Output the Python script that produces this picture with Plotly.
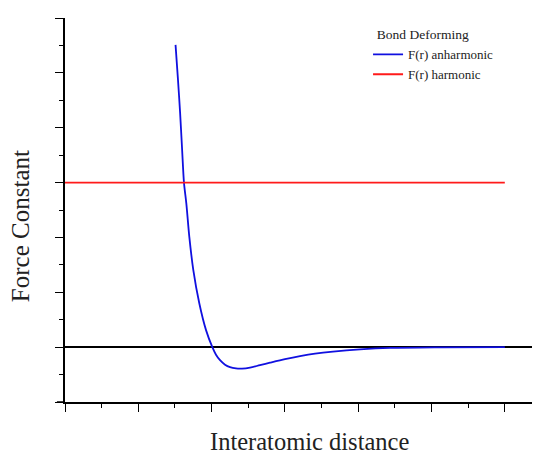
import plotly.graph_objects as go

# Data (x: interatomic distance, y: force constant, arbitrary units)
anh_x = [1.508, 1.540, 1.570, 1.597, 1.623, 1.655, 1.696, 1.750, 1.832, 1.924, 2.010, 2.060, 2.115, 2.183, 2.251, 2.333,
         2.415, 2.524, 2.660, 2.797, 3.001, 3.206, 3.411, 3.656, 4.025, 4.434, 5.116, 6.0]
anh_y = [5.51, 4.90, 4.28, 3.62, 3.00, 2.62, 2.01, 1.41, 0.80, 0.31, 0.0, -0.137, -0.237, -0.319, -0.365, -0.389,
         -0.392, -0.374, -0.328, -0.283, -0.219, -0.164, -0.119, -0.082, -0.042, -0.015, -0.004, 0.0]
harm_x = [0.0, 6.0]
harm_y = [3.0, 3.0]

serif = "Liberation Serif, Times New Roman, serif"

fig = go.Figure()
fig.add_trace(go.Scatter(x=anh_x, y=anh_y, mode="lines", name="F(r) anharmonic",
                         line=dict(color="#1010e0", width=1.8, shape="spline", smoothing=0.8)))
fig.add_trace(go.Scatter(x=harm_x, y=harm_y, mode="lines", name="F(r) harmonic",
                         line=dict(color="#ff1a1a", width=1.8)))

fig.update_layout(
    width=532, height=449,
    margin=dict(l=57, r=0, t=10, b=55),
    paper_bgcolor="white", plot_bgcolor="white",
    font=dict(family=serif, color="#222"),
    showlegend=True,
    legend=dict(x=0.638, y=0.99, xanchor="left", yanchor="top",
                bgcolor="rgba(0,0,0,0)", font=dict(family=serif, size=13, color="#222"),
                title=dict(text="  Bond Deforming", font=dict(family=serif, size=13.5, color="#222")),
                itemwidth=30, tracegroupgap=0),
    xaxis=dict(range=[0, 6.48], showgrid=False, zeroline=False, showticklabels=False,
               showline=True, linecolor="black", linewidth=1.5,
               ticks="outside", tickcolor="black", ticklen=8, tickwidth=1.2,
               tick0=0, dtick=1,
               minor=dict(ticks="outside", ticklen=4, tickcolor="black", tickwidth=1.2, dtick=0.5, showgrid=False)),
    yaxis=dict(range=[-1, 6.0], showgrid=False, zeroline=True, zerolinecolor="black", zerolinewidth=1.5,
               showticklabels=False,
               showline=True, linecolor="black", linewidth=1.5,
               ticks="outside", tickcolor="black", ticklen=8, tickwidth=1.2,
               tick0=0, dtick=1,
               minor=dict(ticks="outside", ticklen=4, tickcolor="black", tickwidth=1.2, dtick=0.5, showgrid=False)),
    annotations=[
        dict(text="Force Constant", x=-0.0947, y=0.458, xref="paper", yref="paper",
             xanchor="center", yanchor="middle",
             textangle=-90, showarrow=False, font=dict(family=serif, size=25, color="#222")),
        dict(text="Interatomic distance", x=0.515, y=-0.104, xref="paper", yref="paper",
             xanchor="center", yanchor="middle",
             showarrow=False, font=dict(family=serif, size=24.5, color="#222")),
    ],
    shapes=[
        dict(type="line", xref="paper", yref="paper", x0=-0.017, x1=0, y0=0, y1=0,
             line=dict(color="black", width=1.5)),
    ],
)

fig.write_html("out.html")
